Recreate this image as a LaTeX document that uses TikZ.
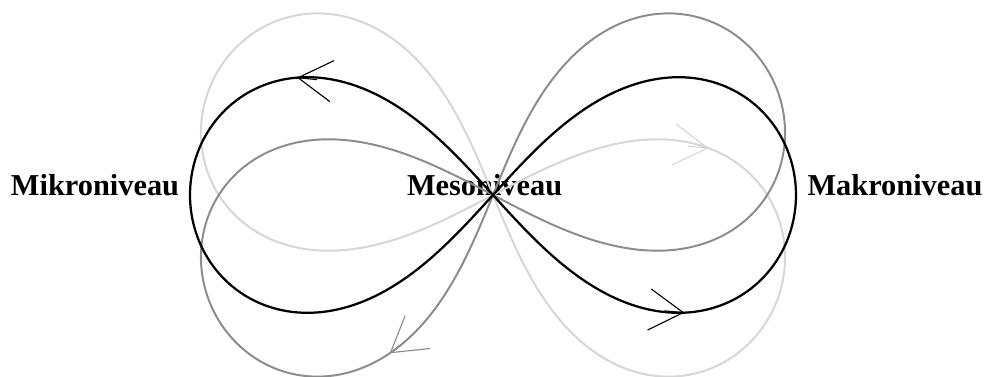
\documentclass[tikz,border=0pt]{standalone}
\usepackage{fontspec}
\setmainfont{Liberation Serif}
\usepackage{tikz}
\usetikzlibrary{arrows.meta}

\definecolor{mittelgrau}{gray}{0.55}
\definecolor{hellgrau}{gray}{0.84}

\begin{document}
\begin{tikzpicture}[
    declare function={
        lx(\t)=7.575*cos(\t)/(1+sin(\t)*sin(\t));
        ly(\t)=8.33*sin(\t)*cos(\t)/(1+sin(\t)*sin(\t));
    },
    schleife/.style={line width=1.6pt},
    pfeil/.style={line width=0.8pt,-{Straight Barb[length=0.85cm,width=1.03cm]}},
    ebene/.style={font=\bfseries\fontsize{21.6}{26}\selectfont,anchor=base,inner sep=0pt}
]

% Rahmen
\useasboundingbox (-12.325,-4.525) rectangle (12.3,4.875);

% Beschriftungen
\node[ebene] (mikro) at (-9.95,0) {Mikroniveau};
\node[ebene] (meso) at (-0.21,0) {Mesoniveau};
\node[ebene] (makro) at (10.05,0) {Makroniveau};

% Helle Schleife (nach rechts gekippt)
\begin{scope}[rotate=-20,hellgrau]
\draw[schleife,line width=1.4pt] plot[smooth cycle,domain=0:358,samples=180,variable=\t] ({lx(\t)},{ly(\t)});
\draw[pfeil] ({lx(35)-0.5},{ly(35)-0.125}) -- ({lx(35)},{ly(35)});
\end{scope}

% Mittlere Schleife (nach links gekippt)
\begin{scope}[rotate=20,mittelgrau]
\draw[schleife,line width=1.4pt] plot[smooth cycle,domain=0:358,samples=180,variable=\t] ({lx(\t)},{ly(\t)});
\draw[pfeil] ({lx(133)},{ly(133)}) -- ({lx(137)},{ly(137)});
\end{scope}

% Schwarze Schleife
\draw[schleife] plot[smooth cycle,domain=0:358,samples=180,variable=\t] ({lx(\t)},{ly(\t)});
\draw[pfeil] ({lx(213)+0.5},{ly(213)-0.05}) -- ({lx(213)},{ly(213)});
\draw[pfeil] ({lx(326)-0.5},{ly(326)+0.045}) -- ({lx(326)},{ly(326)});

\end{tikzpicture}
\end{document}
